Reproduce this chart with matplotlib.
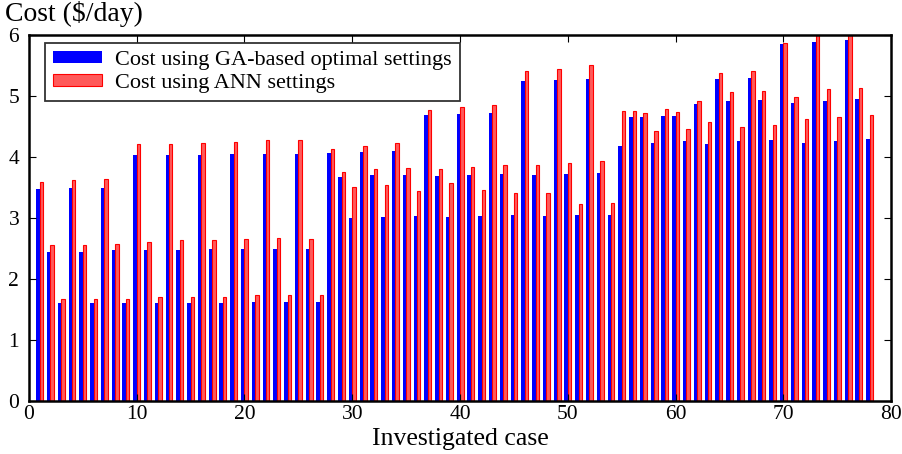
import matplotlib.pyplot as plt
import numpy as np

plt.rcParams["font.family"] = ["Liberation Serif", "DejaVu Serif"]
plt.rcParams["mathtext.fontset"] = "stix"

# daily cost per investigated case
cases = np.arange(1, 79)
cost_ga = [
    3.47, 2.44, 1.60, 3.49, 2.44, 1.60, 3.49, 2.47, 1.60, 4.03,
    2.47, 1.60, 4.03, 2.47, 1.60, 4.03, 2.49, 1.60, 4.04, 2.49,
    1.62, 4.04, 2.49, 1.62, 4.05, 2.49, 1.62, 4.07, 3.67, 3.00,
    4.08, 3.70, 3.02, 4.10, 3.70, 3.03, 4.69, 3.69, 3.02, 4.70,
    3.70, 3.03, 4.72, 3.72, 3.05, 5.25, 3.70, 3.03, 5.26, 3.72,
    3.05, 5.28, 3.74, 3.05, 4.18, 4.66, 4.66, 4.23, 4.67, 4.67,
    4.26, 4.87, 4.21, 5.28, 4.92, 4.26, 5.29, 4.93, 4.28, 5.85,
    4.89, 4.23, 5.89, 4.92, 4.26, 5.92, 4.95, 4.30,
]
cost_ann = [
    3.59, 2.55, 1.67, 3.62, 2.55, 1.67, 3.63, 2.58, 1.67, 4.21,
    2.60, 1.70, 4.22, 2.63, 1.70, 4.23, 2.63, 1.70, 4.25, 2.65,
    1.73, 4.27, 2.67, 1.73, 4.28, 2.66, 1.74, 4.13, 3.75, 3.51,
    4.18, 3.80, 3.54, 4.23, 3.82, 3.44, 4.77, 3.80, 3.57, 4.82,
    3.84, 3.46, 4.85, 3.87, 3.41, 5.41, 3.87, 3.41, 5.44, 3.90,
    3.23, 5.50, 3.93, 3.24, 4.75, 4.76, 4.72, 4.43, 4.78, 4.74,
    4.46, 4.92, 4.58, 5.38, 5.06, 4.49, 5.41, 5.08, 4.52, 5.87,
    4.99, 4.63, 6.02, 5.11, 4.65, 6.02, 5.13, 4.69,
]

fig = plt.figure(figsize=(9.03, 4.54), dpi=100)
ax = fig.add_axes([0.032, 0.117, 0.955, 0.806])

w = 0.32
ax.bar(cases - w / 2, cost_ga, width=w, color="#0000ff", linewidth=0,
       label="Cost using GA-based optimal settings")
ax.bar(cases + w / 2, cost_ann, width=w, color="#ff5a5a", edgecolor="#ff0000",
       linewidth=0.8, label="Cost using ANN settings")

ax.set_xlim(0, 80)
ax.set_ylim(0, 6)
ax.set_xticks(np.arange(0, 81, 10))
ax.set_yticks(np.arange(0, 7, 1))
ax.tick_params(direction="in", top=True, right=True, labelsize=15.5, length=5,
               width=0.8, pad=3)
ax.tick_params(axis="y", pad=7)
for s in ax.spines.values():
    s.set_linewidth(1.8)

ax.set_xlabel("Investigated case", fontsize=18.5, labelpad=3)
fig.text(0.006, 0.97, r"Cost (\$/day)", fontsize=20, ha="left", va="center")

leg = ax.legend(loc="upper left", bbox_to_anchor=(0.019, 0.978), fontsize=16,
                frameon=True, fancybox=False, borderaxespad=0.0,
                handlelength=2.2, handleheight=0.45, handletextpad=0.6,
                labelspacing=0.2, borderpad=0.35)
leg.get_frame().set_edgecolor("black")
leg.get_frame().set_linewidth(1.3)

fig.savefig("out.png", dpi=100)
